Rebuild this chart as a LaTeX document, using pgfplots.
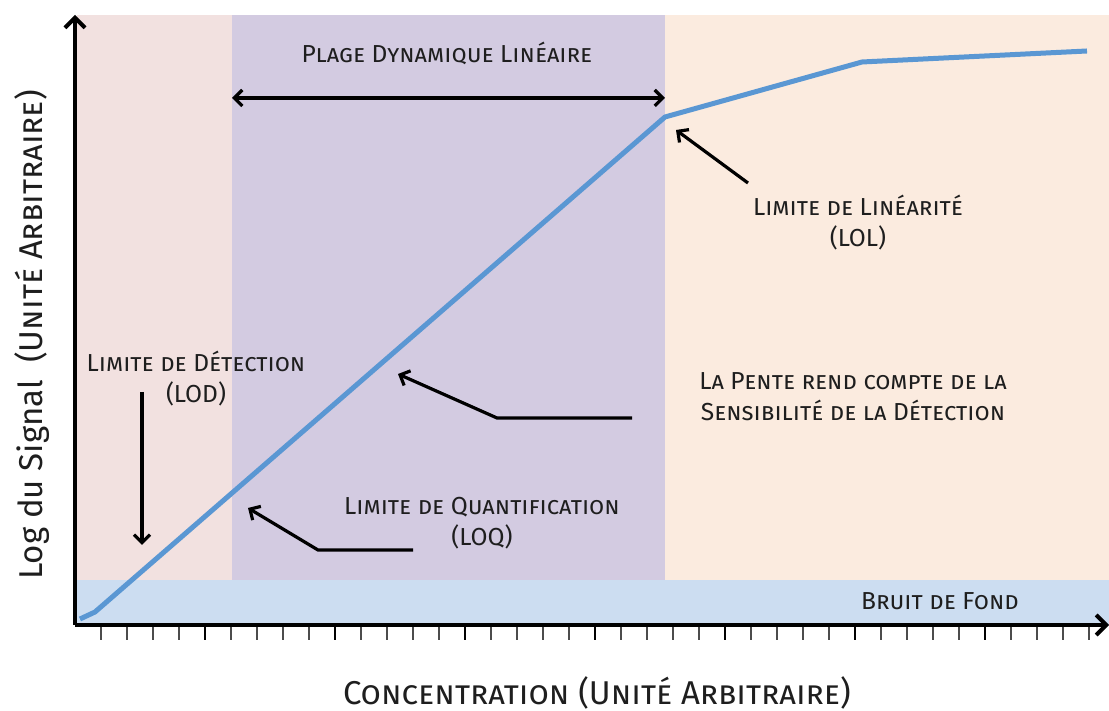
\documentclass[border=0pt]{standalone}
\usepackage{pgfplots}
\pgfplotsset{compat=1.18}
\usepackage{fontspec}
\setmainfont{Fira Sans}
\usetikzlibrary{arrows.meta}

\definecolor{bgpink}{RGB}{242,225,224}
\definecolor{bgpurple}{RGB}{211,203,225}
\definecolor{bgpeach}{RGB}{251,235,223}
\definecolor{bgblue}{RGB}{204,221,241}
\definecolor{sigline}{RGB}{90,151,211}
\definecolor{txt}{RGB}{30,30,30}

\tikzset{
  ann/.style={line width=1.6pt, -{Straight Barb[length=4pt,width=8pt]}},
  lbl/.style={text=txt, align=center, font=\fontsize{12.3}{15.5}\selectfont},
}

\begin{document}
\begin{tikzpicture}
\begin{axis}[
  scale only axis,
  width=517pt, height=305pt,
  xmin=0, xmax=1034, ymin=0, ymax=610,
  axis x line=bottom, axis y line=left,
  axis line style={line width=2pt, -{Straight Barb[length=5pt,width=10pt]}},
  axis on top,
  clip=false,
  ytick=\empty,
  xtick={130,260,...,910},
  minor xtick={26,52,...,1014},
  xticklabels={},
  tick align=outside,
  major tick length=7.5pt, minor tick length=7.5pt,
  major tick style={black, line width=1.1pt},
  minor tick style={black!70, line width=0.7pt},
]
% background zones
\addplot[draw=none, fill=bgpink] coordinates {(2,610)(157,610)} \closedcycle;
\addplot[draw=none, fill=bgpurple] coordinates {(157,610)(590,610)} \closedcycle;
\addplot[draw=none, fill=bgpeach] coordinates {(590,610)(1034,610)} \closedcycle;
\addplot[draw=none, fill=bgblue] coordinates {(2,45)(1034,45)} \closedcycle;

% signal
\addplot[sigline, line width=2.5pt, line join=round] coordinates {
  (5,6)(20,13)(590,508)(787,563)(1012,574)
};

% annotations
\node[lbl] at (axis cs:372,572) {\textsc{Plage Dynamique Linéaire}};
\draw[line width=1.6pt, {Straight Barb[length=4pt,width=8pt]}-{Straight Barb[length=4pt,width=8pt]}]
  (axis cs:157,527) -- (axis cs:590,527);

\draw[ann] (axis cs:673,442) -- (axis cs:601,495);
\node[lbl] at (axis cs:783,402) {\textsc{Limite de Linéarité}\\\textsc{(LOL)}};

\node[lbl] at (axis cs:121,246) {\textsc{Limite de Détection}\\\textsc{(LOD)}};
\draw[ann] (axis cs:67,233) -- (axis cs:67,80);

\draw[ann] (axis cs:557,207) -- (axis cs:422,207) -- (axis cs:323,251);
\node[lbl] at (axis cs:778,228) {\textsc{La Pente rend compte de la}\\\textsc{Sensibilité de la Détection}};

\draw[ann] (axis cs:338,75) -- (axis cs:243,75) -- (axis cs:173,117);
\node[lbl] at (axis cs:407,102) {\textsc{Limite de Quantification}\\\textsc{(LOQ)}};

\node[lbl] at (axis cs:865,24) {\textsc{Bruit de Fond}};

% axis titles
\node[text=txt, font=\fontsize{16.5}{20}\selectfont] at (axis cs:522,-68) {\textsc{Concentration (Unité Arbitraire)}};
\node[text=txt, font=\fontsize{16.5}{20}\selectfont, rotate=90] at (axis cs:-43,290) {Log du Signal\ \ \textsc{(Unité Arbitraire)}};

\coordinate (bl) at (axis cs:-75,-86);
\coordinate (tr) at (axis cs:1034,625);
\end{axis}
\pgfresetboundingbox
\path[use as bounding box] (bl) rectangle (tr);
\end{tikzpicture}
\end{document}
